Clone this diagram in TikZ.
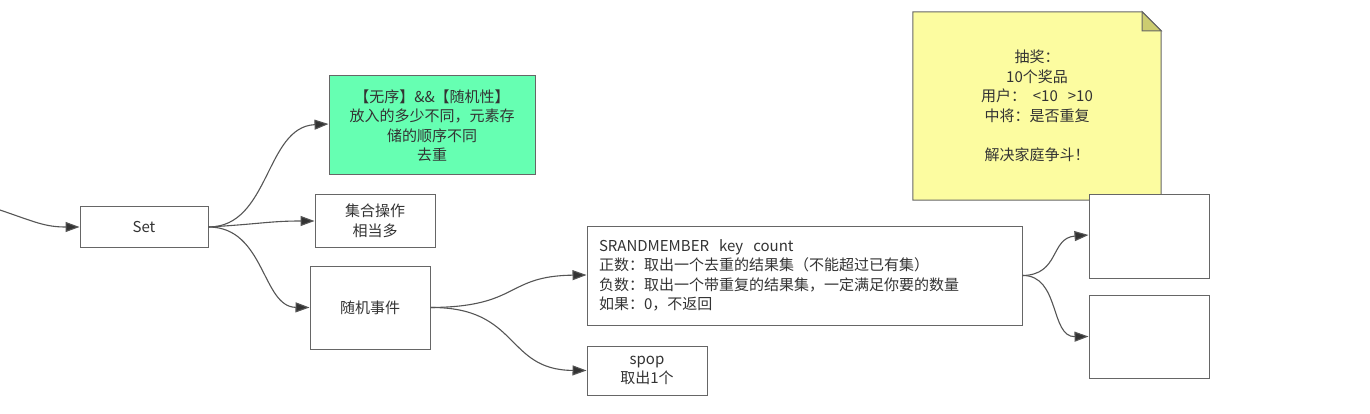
\documentclass[tikz,border=0pt]{standalone}
\usepackage{fontspec}
\setmainfont{Noto Sans CJK SC}
\usetikzlibrary{arrows.meta}
\definecolor{linec}{HTML}{555555}
\definecolor{boxc}{HTML}{666666}
\definecolor{txtc}{HTML}{333333}
\definecolor{greenf}{HTML}{66FFB2}
\definecolor{notef}{HTML}{FCFCA0}
\definecolor{foldf}{HTML}{CCCC70}
\begin{document}
\begin{tikzpicture}[x=1pt,y=-1pt,
  every node/.style={font=\fontsize{15}{19.5}\selectfont, text=txtc},
  boxst/.style={draw=boxc, line width=1pt, fill=white, inner sep=0pt, align=center},
  conn/.style={draw=linec, line width=1.1pt, -{Triangle[length=14pt,width=10pt,fill=txtc]}}
]
\useasboundingbox (0,0) rectangle (1370,414);
% note
\node[inner sep=0pt, minimum width=248pt, minimum height=188pt] (note) at (1037,106) {};
\draw[draw=boxc, line width=1pt, fill=notef]
  (note.north west) -- ([xshift=-19pt]note.north east) -- ([yshift=-19pt]note.north east)
  -- (note.south east) -- (note.south west) -- cycle;
\draw[draw=boxc, line width=1pt, fill=foldf]
  ([xshift=-19pt]note.north east) -- ([xshift=-19pt,yshift=-19pt]note.north east) -- ([yshift=-19pt]note.north east) -- cycle;
\node[align=center] (notetext) at (note.center) {抽奖：\\10个奖品\\用户：\ \ <10\ \ \ >10\\中将：是否重复\\ \\解决家庭争斗！};
% nodes
\node[boxst, minimum width=128pt, minimum height=40pt] (set) at (144,227) {Set};
\node[boxst, fill=greenf, minimum width=206pt, minimum height=99pt] (green) at (432,125.5)
  {【无序】\&\&【随机性】\\放入的多少不同，元素存\\储的顺序不同\\去重};
\node[boxst, minimum width=120pt, minimum height=52pt] (ops) at (375,221) {集合操作\\相当多};
\node[boxst, minimum width=120pt, minimum height=83pt] (rand) at (370,307.5) {随机事件};
\node[boxst, minimum width=435pt, minimum height=99pt, align=left, text width=411pt] (srand) at (804.5,275.5)
  {SRANDMEMBER\ \ key\ \ count\\正数：取出一个去重的结果集（不能超过已有集）\\负数：取出一个带重复的结果集，一定满足你要的数量\\如果：0，不返回};
\node[boxst, minimum width=120pt, minimum height=49pt] (spop) at (647,370.5) {spop\\取出1个};
\node[boxst, minimum width=120pt, minimum height=83pt] (r1) at (1149,236.5) {};
\node[boxst, minimum width=120pt, minimum height=83pt] (r2) at (1149,336.5) {};
% connectors
\coordinate (in) at (0,210);
\draw[conn] (in) .. controls (35,222) and (45,227) .. (set.west);
\draw[conn] (set.east) .. controls (270,227) and (265,127) .. ([yshift=1.5pt]green.west);
\draw[conn] (set.east) .. controls (260,224) and (270,221) .. (ops.west);
\draw[conn] (set.east) .. controls (265,227) and (262,307) .. (rand.west);
\draw[conn] (rand.east) .. controls (520,307) and (505,276) .. ([yshift=0.5pt]srand.west);
\draw[conn] (rand.east) .. controls (520,307) and (505,370) .. (spop.west);
\draw[conn] (srand.east) .. controls (1060,275) and (1050,238) .. ([yshift=1.5pt]r1.west);
\draw[conn] (srand.east) .. controls (1060,275) and (1050,337) .. (r2.west);
\end{tikzpicture}
\end{document}
